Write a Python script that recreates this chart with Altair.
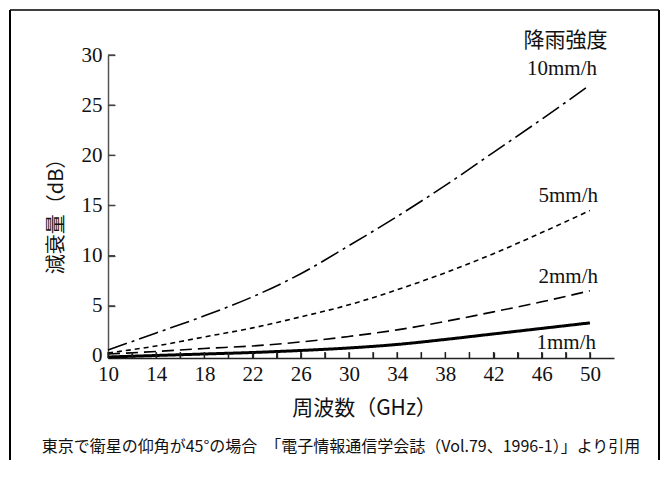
import altair as alt
import pandas as pd

# ---- data ----
freq = [10, 14, 18, 22, 26, 30, 34, 38, 42, 46, 50]
r1 = [-0.1, 0.05, 0.2, 0.35, 0.55, 0.8, 1.15, 1.65, 2.2, 2.75, 3.3]
r2 = [0.2, 0.45, 0.75, 1.0, 1.4, 1.95, 2.6, 3.45, 4.4, 5.4, 6.5]
r5 = [0.3, 1.0, 1.9, 2.8, 3.9, 5.1, 6.6, 8.3, 10.2, 12.3, 14.5]
r10 = [0.6, 2.3, 4.0, 5.9, 8.2, 11.0, 13.9, 17.0, 20.3, 23.6, 27.0]
series_names = ["1mm/h", "2mm/h", "5mm/h", "10mm/h"]
series_values = [r1, r2, r5, r10]

x_label_values = [10, 14, 18, 22, 26, 30, 34, 38, 42, 46, 50]
x_tick_values = list(range(10, 51, 2))
y_tick_values = [0, 5, 10, 15, 20, 25, 30]

legend_title = "降雨強度"
x_title = "周波数（GHz）"
y_title = "減衰量（dB）"
footer = "東京で衛星の仰角が45°の場合　「電子情報通信学会誌（Vol.79、1996-1）」より引用"

rows = []
for name, vals in zip(series_names, series_values):
    for f, v in zip(freq, vals):
        rows.append({"freq": f, "value": v, "series": name})
df = pd.DataFrame(rows)

W, H = 506, 303
xscale = alt.Scale(domain=[10, 52], nice=False, zero=False)
yscale = alt.Scale(domain=[-0.2, 30], nice=False, zero=False)

serif = "Liberation Serif"
cjk = "Noto Sans CJK JP"

xaxis = alt.Axis(values=x_label_values, ticks=False, grid=False, domainColor="#222",
                 domainWidth=1.5, labelFont=serif, labelFontSize=21, labelColor="#111",
                 labelPadding=5, labelFlush=False, labelOverlap=False,
                 title=x_title, titleFont=cjk, titleFontSize=21,
                 titleFontWeight="normal", titleColor="#111", titleX=256, titleY=50,
                 titleBaseline="middle", titleAlign="center")
yaxis = alt.Axis(values=y_tick_values, ticks=False, grid=False, domainColor="#555",
                 domainWidth=1.5, labelFont=serif, labelFontSize=21, labelColor="#111",
                 labelPadding=6, labelFlush=False, labelOverlap=False,
                 title=y_title, titleFont=cjk, titleFontSize=20,
                 titleFontWeight="normal", titleColor="#111", titleX=-52, titleY=156,
                 titleAngle=270, titleBaseline="middle", titleAlign="center")

# second axes, moved onto the plot edges so that their ticks point inward
x_in_axis = alt.Axis(orient="top", offset=-H, values=x_tick_values, labels=False,
                     domain=False, ticks=True, tickSize=6, tickWidth=1.3,
                     tickColor="#222", grid=False, title=None)
y_in_axis = alt.Axis(orient="right", offset=-W, values=y_tick_values[1:], labels=False,
                     domain=False, ticks=True, tickSize=7, tickWidth=1.3,
                     tickColor="#444", grid=False, title=None)

styles = {
    "1mm/h": dict(strokeWidth=3, strokeDash=[1, 0]),
    "2mm/h": dict(strokeWidth=1.6, strokeDash=[12, 6]),
    "5mm/h": dict(strokeWidth=1.6, strokeDash=[5, 4]),
    "10mm/h": dict(strokeWidth=1.6, strokeDash=[20, 5, 3, 5]),
}

base = alt.Chart(df)
layers = []
first = True
for name in series_names:
    layers.append(
        base.transform_filter(alt.datum.series == name)
        .mark_line(color="black", interpolate="monotone", **styles[name])
        .encode(
            x=alt.X("freq:Q", scale=xscale, axis=xaxis if first else None),
            y=alt.Y("value:Q", scale=yscale, axis=yaxis if first else None),
        )
    )
    first = False

# inward tick layers (carry the inward axes)
xt = alt.Chart(pd.DataFrame({"t": x_tick_values})).mark_rule(color="#222", strokeWidth=1.3).encode(
    x=alt.X("t:Q", scale=xscale, axis=x_in_axis), y=alt.value(H), y2=alt.value(H - 6))
yt = alt.Chart(pd.DataFrame({"v": y_tick_values[1:]})).mark_rule(color="#444", strokeWidth=1.3).encode(
    y=alt.Y("v:Q", scale=yscale, axis=y_in_axis), x=alt.value(0), x2=alt.value(7))

frame_data = pd.DataFrame({"f": [0]})

def hline(y, x1, x2):
    return alt.Chart(frame_data).mark_rule(color="black", strokeWidth=1.5).encode(
        x=alt.value(x1), x2=alt.value(x2), y=alt.value(y))

def vline(x, y1, y2):
    return alt.Chart(frame_data).mark_rule(color="black", strokeWidth=2).encode(
        x=alt.value(x), y=alt.value(y1), y2=alt.value(y2))

frame = [hline(-45, -98, 551), vline(-98, -45, 405), vline(551, -45, 405)]

one = pd.DataFrame({"a": [0]})

def txt(s, x, y, font, size, align="center"):
    return alt.Chart(one).mark_text(text=s, font=font, fontSize=size, align=align,
                                    baseline="middle", color="#111").encode(
        x=alt.value(x), y=alt.value(y))

texts = [
    txt(legend_title, 457.5, -14, cjk, 21),
    txt("10mm/h", 489, 14, serif, 21, "right"),
    txt("5mm/h", 490, 141, serif, 21, "right"),
    txt("2mm/h", 490, 222, serif, 21, "right"),
    txt("1mm/h", 488, 288, serif, 21, "right"),
    txt(footer, 233, 391.5, cjk, 16),
]

chart = alt.layer(*layers, xt, yt, *frame, *texts).properties(
    width=W, height=H,
    autosize=alt.AutoSizeParams(type="none"),
    padding={"left": 100, "top": 47, "right": 46, "bottom": 110},
).resolve_axis(x="independent", y="independent").configure_view(stroke=None)

chart.save("out.html", embed_options={"renderer": "svg", "actions": False})
